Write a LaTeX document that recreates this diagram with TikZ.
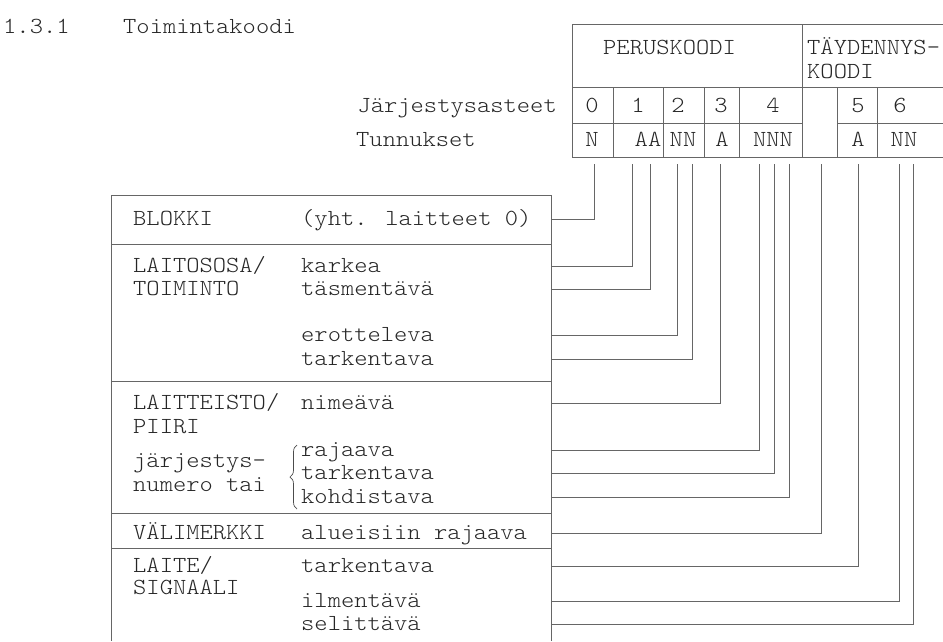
\documentclass[tikz,border=0pt]{standalone}
\usepackage{fontspec}
\newfontfamily\typewr[FakeStretch=1.1]{Latin Modern Mono Light}
\usetikzlibrary{decorations.pathreplacing}

\begin{document}
\begin{tikzpicture}[
    x=1pt, y=-1pt,
    font=\typewr\fontsize{23}{24}\selectfont,
    txt/.style={anchor=west, inner sep=0pt, text height=12pt, text depth=0pt, text=black!85},
    cell/.style={anchor=center, inner sep=0pt, text height=12pt, text depth=0pt, text=black!85},
    rule/.style={draw=black!60, line width=0.8pt},
    wire/.style={draw=black!60, line width=0.8pt},
    curly/.style={draw=black!70, line width=0.7pt, decorate, decoration={brace, mirror, amplitude=7pt}}
]
\useasboundingbox (0,0) rectangle (943,641);

% --- TITLE ---
\node (number) [txt] at (3,27) {1.3.1};
\node (title) [txt] at (123,27) {Toimintakoodi};

% --- CODE TABLE ---
\draw [rule] (943,24) -- (572,24) -- (572,157) -- (943,157);
\draw [rule] (572,87) -- (943,87);
\draw [rule] (572,123) -- (802,123) (837,123) -- (943,123);
\draw [rule] (802,24) -- (802,157);
\foreach \x in {613,663,704,739,837,877}
    \draw [rule] (\x,87) -- (\x,157);

\node (peruskoodi) [txt] at (603,48) {PERUSKOODI};
\node (taydennys) [txt] at (807,48) {TÄYDENNYS-};
\node (koodi) [txt] at (807,72) {KOODI};
\node (asteet) [txt, anchor=east] at (557,106) {Järjestysasteet};
\node (tunnukset) [txt] at (356,140) {Tunnukset};

\node (aste0) [cell] at (592,106) {0};
\node (aste1) [cell] at (638,106) {1};
\node (aste2) [cell] at (678,106) {2};
\node (aste3) [cell] at (721,106) {3};
\node (aste4) [cell] at (773,106) {4};
\node (aste5) [cell] at (858,106) {5};
\node (aste6) [cell] at (900,106) {6};

\node (tun0) [cell] at (592,140) {N};
\node (tun1) [cell] at (648,140) {AA};
\node (tun2) [cell] at (683,140) {NN};
\node (tun3) [cell] at (722,140) {A};
\node (tun4) [cell] at (773,140) {NNN};
\node (tun5) [cell] at (858,140) {A};
\node (tun6) [cell] at (904,140) {NN};

% --- FIELD BOX ---
\draw [rule] (551,641) -- (551,195) -- (111,195) -- (111,641);
\foreach \y in {244,381,513,548}
    \draw [rule] (111,\y) -- (551,\y);
\coordinate (edge) at (551,195);

\node (blokki) [txt] at (133,219) {BLOKKI};
\node (laitososa) [txt] at (133,266) {LAITOSOSA/};
\node (toiminto) [txt] at (133,289) {TOIMINTO};
\node (laitteisto) [txt] at (133,403) {LAITTEISTO/};
\node (piiri) [txt] at (133,427) {PIIRI};
\node (jarjestys) [txt] at (133,461) {järjestys-};
\node (numero) [txt] at (133,485) {numero tai};
\node (valimerkki) [txt] at (133,533) {VÄLIMERKKI};
\node (laite) [txt] at (133,566) {LAITE/};
\node (signaali) [txt] at (133,588) {SIGNAALI};

\node (yht) [txt] at (301,219) {(yht. laitteet 0)};
\node (karkea) [txt] at (301,266) {karkea};
\node (tasmentava) [txt] at (301,289) {täsmentävä};
\node (erotteleva) [txt] at (301,335) {erotteleva};
\node (tarkentava) [txt] at (301,359) {tarkentava};
\node (nimeava) [txt] at (301,403) {nimeävä};
\node (rajaava) [txt] at (301,450) {rajaava};
\node (tarkentavab) [txt] at (301,473) {tarkentava};
\node (kohdistava) [txt] at (301,497) {kohdistava};
\node (alueisiin) [txt] at (301,533) {alueisiin rajaava};
\node (tarkentavac) [txt] at (301,566) {tarkentava};
\node (ilmentava) [txt] at (301,601) {ilmentävä};
\node (selittava) [txt] at (301,624) {selittävä};

\draw [curly] (297,445) -- (297,509);

% --- CONNECTIONS ---
\coordinate (r0) at (594,164);
\coordinate (r1) at (632,164);
\coordinate (r2) at (650,164);
\coordinate (r3) at (677,164);
\coordinate (r4) at (692,164);
\coordinate (r5) at (720,164);
\coordinate (r6) at (759,164);
\coordinate (r7) at (774,164);
\coordinate (r8) at (789,164);
\coordinate (r9) at (821,164);
\coordinate (r10) at (858,164);
\coordinate (r11) at (899,164);
\coordinate (r12) at (913,164);

\draw [wire] (r0) |- (edge |- yht.west);
\draw [wire] (r1) |- (edge |- karkea.west);
\draw [wire] (r2) |- (edge |- tasmentava.west);
\draw [wire] (r3) |- (edge |- erotteleva.west);
\draw [wire] (r4) |- (edge |- tarkentava.west);
\draw [wire] (r5) |- (edge |- nimeava.west);
\draw [wire] (r6) |- (edge |- rajaava.west);
\draw [wire] (r7) |- (edge |- tarkentavab.west);
\draw [wire] (r8) |- (edge |- kohdistava.west);
\draw [wire] (r9) |- (edge |- alueisiin.west);
\draw [wire] (r10) |- (edge |- tarkentavac.west);
\draw [wire] (r11) |- (edge |- ilmentava.west);
\draw [wire] (r12) |- (edge |- selittava.west);

\end{tikzpicture}
\end{document}
